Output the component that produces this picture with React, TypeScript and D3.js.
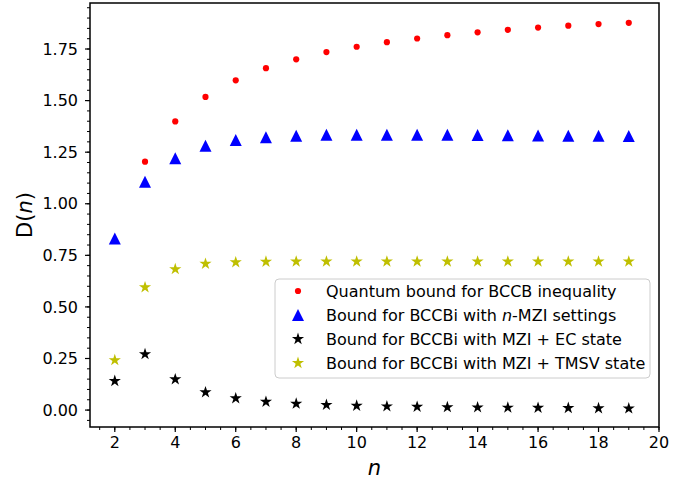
import React from "react";
import * as d3 from "d3";

const nValues = [2, 3, 4, 5, 6, 7, 8, 9, 10, 11, 12, 13, 14, 15, 16, 17, 18, 19];
const quantumN = [3, 4, 5, 6, 7, 8, 9, 10, 11, 12, 13, 14, 15, 16, 17, 18, 19];
const quantumBound = [1.204, 1.399, 1.518, 1.598, 1.657, 1.700, 1.735, 1.761, 1.783, 1.801, 1.817, 1.831, 1.843, 1.854, 1.863, 1.871, 1.877];
const mziBound = [0.832, 1.107, 1.221, 1.281, 1.309, 1.322, 1.330, 1.334, 1.335, 1.335, 1.335, 1.334, 1.333, 1.332, 1.331, 1.330, 1.329, 1.328];
const ecBound = [0.141, 0.271, 0.149, 0.086, 0.057, 0.040, 0.031, 0.025, 0.021, 0.018, 0.016, 0.014, 0.013, 0.012, 0.011, 0.010, 0.009, 0.008];
const tmsvBound = [0.242, 0.595, 0.683, 0.709, 0.716, 0.719, 0.720, 0.720, 0.720, 0.720, 0.720, 0.720, 0.720, 0.720, 0.720, 0.720, 0.720, 0.720];

const xMajorTicks = [2, 4, 6, 8, 10, 12, 14, 16, 18, 20];
const yMajorTicks = [0, 0.25, 0.5, 0.75, 1.0, 1.25, 1.5, 1.75];

const RED = "#ff0000";
const BLUE = "#0000ff";
const BLACK = "#000000";
const YELLOW = "#bfbf00";
const FONT = "DejaVu Sans, sans-serif";

function starPath(r: number) {
  const inner = r * 0.381966;
  const pts: [number, number][] = [];
  for (let i = 0; i < 10; i++) {
    const rad = i % 2 === 0 ? r : inner;
    const a = -Math.PI / 2 + (i * Math.PI) / 5;
    pts.push([rad * Math.cos(a), rad * Math.sin(a)]);
  }
  return d3.line()(pts) + "Z";
}

function triPath(h: number) {
  const pts: [number, number][] = [
    [0, -h],
    [-h, h],
    [h, h],
  ];
  return d3.line()(pts) + "Z";
}

export default function App() {
  const W = 685;
  const H = 483;
  const left = 90, right = 659, top = 3, bottom = 427;
  const x = d3.scaleLinear().domain([1.18, 20]).range([left, right]);
  const y = d3.scaleLinear().domain([-0.082, 1.973]).range([bottom, top]);

  const xMinor = d3.range(1.5, 20.01, 0.5).filter((v) => x(v) >= left - 0.1);
  const yMinor = d3.range(-0.05, 1.97, 0.05).filter((v) => y(v) <= bottom && y(v) >= top);

  const star = starPath(6.4);
  const tri = triPath(6);

  const legendItems = [
    { kind: "dot", color: RED, label: [{ t: "Quantum bound for BCCB inequality" }] },
    { kind: "tri", color: BLUE, label: [{ t: "Bound for BCCBi with " }, { t: "n", i: true }, { t: "-MZI settings" }] },
    { kind: "star", color: BLACK, label: [{ t: "Bound for BCCBi with MZI + EC state" }] },
    { kind: "star", color: YELLOW, label: [{ t: "Bound for BCCBi with MZI + TMSV state" }] },
  ];

  const marker = (kind: string, color: string, cx: number, cy: number, key: any) => {
    if (kind === "dot") return <circle key={key} cx={cx} cy={cy} r={3.1} fill={color} />;
    if (kind === "tri") return <path key={key} d={tri} transform={`translate(${cx},${cy})`} fill={color} />;
    return <path key={key} d={star} transform={`translate(${cx},${cy})`} fill={color} />;
  };

  return (
    <svg width={W} height={H} style={{ position: "absolute", left: 0, top: 0, background: "#fff" }} fontFamily={FONT}>
      <rect x={0} y={0} width={W} height={H} fill="#fff" />
      {/* data */}
      {quantumN.map((n, i) => marker("dot", RED, x(n), y(quantumBound[i]), "q" + i))}
      {nValues.map((n, i) => marker("tri", BLUE, x(n), y(mziBound[i]), "m" + i))}
      {nValues.map((n, i) => marker("star", BLACK, x(n), y(ecBound[i]), "e" + i))}
      {nValues.map((n, i) => marker("star", YELLOW, x(n), y(tmsvBound[i]), "t" + i))}

      {/* legend */}
      <rect x={275} y={279} width={375} height={99} rx={4} fill="#fff" fillOpacity={0.8} stroke="#cccccc" strokeWidth={1} />
      {legendItems.map((it, i) => {
        const cy = 291 + i * 24;
        return (
          <g key={"l" + i}>
            {marker(it.kind, it.color, 298, cy, "lm" + i)}
            <text x={326} y={cy} dy="0.35em" fontSize={16} fill="#000">
              {it.label.map((s: any, j: number) => (
                <tspan key={j} fontStyle={s.i ? "italic" : "normal"}>{s.t}</tspan>
              ))}
            </text>
          </g>
        );
      })}

      {/* axes frame */}
      <rect x={left} y={top} width={right - left} height={bottom - top} fill="none" stroke="#000" strokeWidth={1.5} />

      {/* x ticks */}
      {xMinor.map((v, i) => (
        <line key={"xm" + i} x1={x(v)} x2={x(v)} y1={bottom} y2={bottom + 3} stroke="#000" strokeWidth={1} />
      ))}
      {xMajorTicks.map((v, i) => (
        <g key={"xt" + i}>
          <line x1={x(v)} x2={x(v)} y1={bottom} y2={bottom + 5} stroke="#000" strokeWidth={1.2} />
          <text x={x(v)} y={448} textAnchor="middle" fontSize={16} fill="#000">{v}</text>
        </g>
      ))}

      {/* y ticks */}
      {yMinor.map((v, i) => (
        <line key={"ym" + i} x1={left - 3} x2={left} y1={y(v)} y2={y(v)} stroke="#000" strokeWidth={1} />
      ))}
      {yMajorTicks.map((v, i) => (
        <g key={"yt" + i}>
          <line x1={left - 5} x2={left} y1={y(v)} y2={y(v)} stroke="#000" strokeWidth={1.2} />
          <text x={78} y={y(v)} dy="0.35em" textAnchor="end" fontSize={16} fill="#000">{v.toFixed(2)}</text>
        </g>
      ))}

      {/* axis labels */}
      <text x={(left + right) / 2} y={475} textAnchor="middle" fontSize={21} fontStyle="italic" fill="#000">n</text>
      <text transform={`translate(32,${(top + bottom) / 2}) rotate(-90)`} textAnchor="middle" fontSize={21} fill="#000">
        <tspan>D(</tspan>
        <tspan fontStyle="italic">n</tspan>
        <tspan>)</tspan>
      </text>
    </svg>
  );
}
